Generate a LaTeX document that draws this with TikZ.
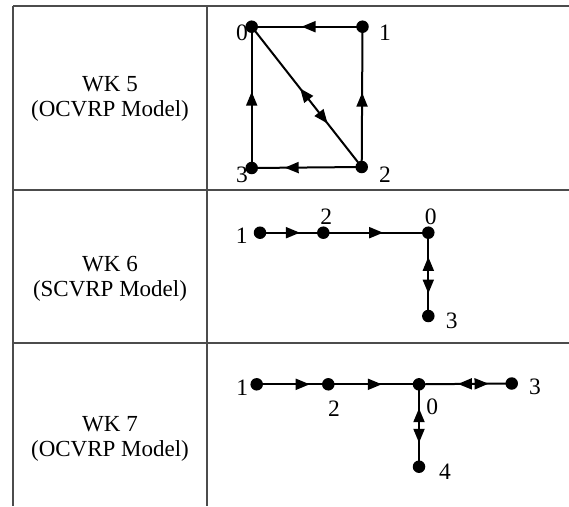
\documentclass[tikz,border=0pt]{standalone}
\usepackage{fontspec}
\setmainfont{Liberation Serif}
\usetikzlibrary{arrows.meta,decorations.markings}
\begin{document}
\begin{tikzpicture}[x=1pt,y=-1pt,
  grid/.style={draw=black!70, line width=1.2pt},
  dot/.style={circle,fill=black,inner sep=0pt,minimum size=12.5pt},
  lbl/.style={inner sep=0pt,font=\fontsize{23.5}{25}\selectfont},
  cell/.style={align=center,inner sep=0pt,font=\fontsize{23}{25}\selectfont},
  link/.style={line width=2pt},
  fwd/.style={postaction={decorate,decoration={markings,mark=at position #1 with {\arrow{Triangle[length=14pt,width=11pt]}}}}},
  bwd/.style={postaction={decorate,decoration={markings,mark=at position #1 with {\arrowreversed{Triangle[length=14pt,width=11pt]}}}}}
]
\useasboundingbox (0,0) rectangle (569,506);

% table grid
\coordinate (tl) at (13,6);
\coordinate (tr) at (569,6);
\coordinate (m1l) at (13,190);
\coordinate (m1r) at (569,190);
\coordinate (m2l) at (13,343);
\coordinate (m2r) at (569,343);
\coordinate (bl) at (13,506);
\coordinate (tm) at (207,6);
\coordinate (bm) at (207,506);
\draw[grid] (tl) -- (tr);
\draw[grid] (m1l) -- (m1r);
\draw[grid] (m2l) -- (m2r);
\draw[grid] (tl) -- (bl);
\draw[grid] (tm) -- (bm);

% left column
\node[cell] (t5) at (110,99) {WK 5\\(OCVRP Model)};
\node[cell] (t6) at (110,279) {WK 6\\(SCVRP Model)};
\node[cell] (t7) at (110,439) {WK 7\\(OCVRP Model)};

% ---------- WK 5 ----------
\node[lbl] (l50) at (242,33) {0};
\node[lbl] (l51) at (385,33) {1};
\node[lbl] (l52) at (385,175) {2};
\node[lbl] (l53) at (242,175) {3};
\node[dot] (a0) at (251.7,26.7) {};
\node[dot] (a1) at (362.5,26.7) {};
\node[dot] (a2) at (361.7,167) {};
\node[dot] (a3) at (251.7,168) {};
\draw[link,fwd=0.55] (a1.center) -- (a0.center);
\draw[link,fwd=0.53] (a2.center) -- (a1.center);
\draw[link,fwd=0.54] (a3.center) -- (a0.center);
\draw[link,fwd=0.70] (a2.center) -- (a3.center);
\draw[link,bwd=0.44,fwd=0.69] (a0.center) -- (a2.center);

% ---------- WK 6 ----------
\node[lbl] (l61) at (241.7,236) {1};
\node[lbl] (l62) at (326.3,217) {2};
\node[lbl] (l60) at (430.7,217) {0};
\node[lbl] (l63) at (451.7,320.7) {3};
\node[dot] (b1) at (260,232.7) {};
\node[dot] (b2) at (323.3,232.7) {};
\node[dot] (b0) at (428.3,232.7) {};
\node[dot] (b3) at (428.3,316) {};
\draw[link,fwd=0.63] (b1.center) -- (b2.center);
\draw[link,fwd=0.57] (b2.center) -- (b0.center);
\draw[link,bwd=0.29,fwd=0.73] (b0.center) -- (b3.center);

% ---------- WK 7 ----------
\node[lbl] (l71) at (242.3,387.3) {1};
\node[lbl] (l72) at (334,408.3) {2};
\node[lbl] (l70) at (432.3,406.7) {0};
\node[lbl] (l73) at (535,387.3) {3};
\node[lbl] (l74) at (445,471.7) {4};
\node[dot] (c1) at (256.7,384.3) {};
\node[dot] (c2) at (328.3,384.3) {};
\node[dot] (c0) at (419,384.3) {};
\node[dot] (c3) at (511.7,383.5) {};
\node[dot] (c4) at (419,466.7) {};
\draw[link,fwd=0.74] (c1.center) -- (c2.center);
\draw[link,fwd=0.59] (c2.center) -- (c0.center);
\draw[link,bwd=0.42,fwd=0.75] (c0.center) -- (c3.center);
\draw[link,bwd=0.29,fwd=0.71] (c0.center) -- (c4.center);
\end{tikzpicture}
\end{document}
